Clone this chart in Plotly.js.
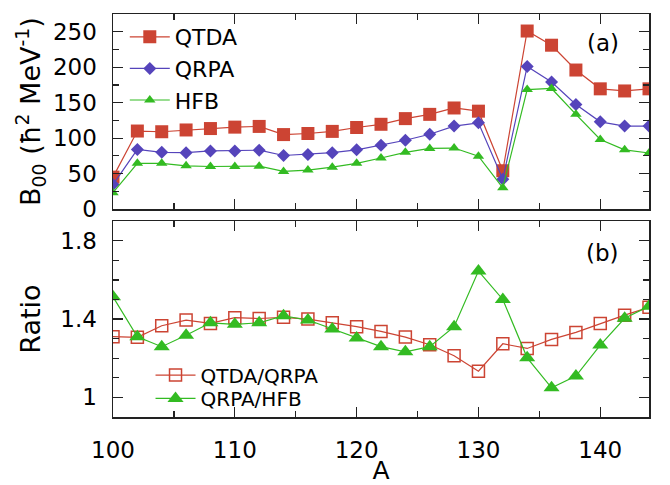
<!DOCTYPE html>
<html>
<head>
<meta charset="utf-8">
<script src="https://cdn.plot.ly/plotly-3.0.1.min.js"></script>
<style>html,body{margin:0;padding:0;background:#fff}#chart{width:670px;height:485px}</style>
</head>
<body>
<div id="chart"></div>
<script>
// Mass number A
const massA = [100,102,104,106,108,110,112,114,116,118,120,122,124,126,128,130,132,134,136,138,140,142,144];
// B00 strengths (hbar^2 MeV^-1)
const qtda = [45,110,109,111.5,113.5,115.5,116.5,105,106.5,109.5,115,119.5,127.5,133.5,142.5,138,54,251,231,196,169.5,166.5,169.5];
const qrpa = [34.5,84,80,79.5,82,82,83,75.5,77,79.5,83.5,90,97,105.5,117,121.5,42,201,179,147.5,123,117,117];
const hfb  = [23,64.5,64.5,61,60,60,60.5,53,55,59,64.5,72,80,85.5,86,74.5,30,168.5,170,133.5,98,83.5,79];
// Ratios
const ratioQtdaQrpa = [1.31,1.307,1.366,1.395,1.378,1.407,1.403,1.409,1.40,1.381,1.361,1.337,1.308,1.269,1.213,1.134,1.274,1.25,1.296,1.332,1.378,1.42,1.46];
const ratioQrpaHfb  = [1.514,1.31,1.259,1.317,1.381,1.373,1.381,1.417,1.395,1.349,1.303,1.259,1.233,1.259,1.361,1.645,1.50,1.202,1.049,1.109,1.267,1.404,1.465];

const RED = '#cc4433', BLUE = '#5544bb', GREEN = '#33bb22';
const FONT = 'DejaVu Sans, sans-serif';

const traces = [
  {x: massA, y: qtda, name: 'QTDA', mode: 'lines+markers', xaxis: 'x', yaxis: 'y', legend: 'legend',
   line: {color: RED, width: 1.2}, marker: {symbol: 'square', size: 13, color: RED}},
  {x: massA, y: qrpa, name: 'QRPA', mode: 'lines+markers', xaxis: 'x', yaxis: 'y', legend: 'legend',
   line: {color: BLUE, width: 1.2}, marker: {symbol: 'diamond', size: 10, color: BLUE}},
  {x: massA, y: hfb, name: 'HFB', mode: 'lines+markers', xaxis: 'x', yaxis: 'y', legend: 'legend',
   line: {color: GREEN, width: 1.2}, marker: {symbol: 'triangle-up', size: 10, color: GREEN}},
  {x: massA, y: ratioQtdaQrpa, name: 'QTDA/QRPA', mode: 'lines+markers', xaxis: 'x2', yaxis: 'y2', legend: 'legend2',
   line: {color: RED, width: 1.2}, marker: {symbol: 'square-open', size: 12, color: RED, line: {width: 1.5}}},
  {x: massA, y: ratioQrpaHfb, name: 'QRPA/HFB', mode: 'lines+markers', xaxis: 'x2', yaxis: 'y2', legend: 'legend3',
   line: {color: GREEN, width: 1.2}, marker: {symbol: 'triangle-up', size: 14, color: GREEN}}
];

const axisCommon = {
  showgrid: false, zeroline: false, showline: true, linecolor: '#222', linewidth: 1.5,
  mirror: 'allticks', ticks: 'inside', ticklen: 10, tickwidth: 1.2, tickcolor: '#222',
  tickfont: {family: FONT, size: 23, color: '#000'}
};
const minorStyle = {ticks: 'inside', ticklen: 6, tickcolor: '#222', showgrid: false};

const layout = {
  width: 670, height: 485,
  margin: {l: 113, r: 21, t: 14, b: 68},
  paper_bgcolor: '#fff', plot_bgcolor: '#fff',
  font: {family: FONT, size: 22, color: '#000'},
  xaxis: Object.assign({}, axisCommon, {domain: [0, 1], range: [100, 144], dtick: 10, tick0: 100,
    showticklabels: false, anchor: 'y', matches: 'x2',
    minor: Object.assign({dtick: 5}, minorStyle)}),
  yaxis: Object.assign({}, axisCommon, {domain: [0.516, 1], range: [0, 275], dtick: 50, tick0: 0,
    anchor: 'x', ticklabelstandoff: 10,
    minor: Object.assign({dtick: 25}, minorStyle),
    title: {text: 'B<sub>00</sub> (ħ<sup>2</sup> MeV<sup>-1</sup>)', font: {family: FONT, size: 27}, standoff: 4}}),
  xaxis2: Object.assign({}, axisCommon, {domain: [0, 1], range: [100, 144], dtick: 10, tick0: 100,
    anchor: 'y2', ticklabelstandoff: 12,
    minor: Object.assign({dtick: 5}, minorStyle),
    title: {text: 'A', font: {family: FONT, size: 25}, standoff: 18}}),
  yaxis2: Object.assign({}, axisCommon, {domain: [0, 0.486], range: [0.9, 1.9], dtick: 0.4, tick0: 1,
    anchor: 'x2', ticklabelstandoff: 10,
    minor: Object.assign({dtick: 0.1}, minorStyle),
    title: {text: 'Ratio', font: {family: FONT, size: 27}, standoff: 12}}),
  legend: {x: 0.022, y: 0.995, xanchor: 'left', yanchor: 'top', bgcolor: 'rgba(0,0,0,0)',
    font: {family: FONT, size: 22}, itemwidth: 40, tracegroupgap: 0},
  legend2: {x: 0.07, y: 0.104, xanchor: 'left', yanchor: 'middle', bgcolor: 'rgba(0,0,0,0)',
    font: {family: FONT, size: 20}, itemwidth: 40},
  legend3: {x: 0.07, y: 0.046, xanchor: 'left', yanchor: 'middle', bgcolor: 'rgba(0,0,0,0)',
    font: {family: FONT, size: 20}, itemwidth: 40},
  annotations: [
    {xref: 'x', yref: 'y', x: 140.2, y: 234, text: '(a)', showarrow: false, font: {family: FONT, size: 23}},
    {xref: 'x2', yref: 'y2', x: 140.2, y: 1.737, text: '(b)', showarrow: false, font: {family: FONT, size: 23}}
  ],
  showlegend: true
};

Plotly.newPlot('chart', traces, layout, {displayModeBar: false, staticPlot: true});
</script>
</body>
</html>
